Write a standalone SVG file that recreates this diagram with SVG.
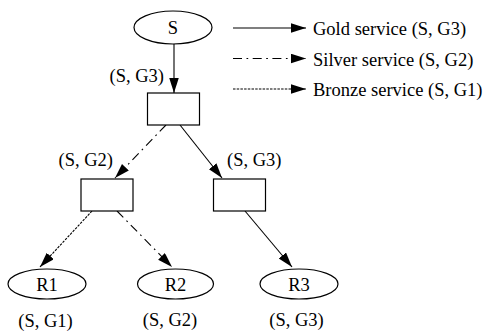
<svg xmlns="http://www.w3.org/2000/svg" width="495" height="332" viewBox="0 0 495 332">
<style>
text{font-family:"Liberation Serif","Times New Roman",serif;font-size:18.5px;fill:#000}
.c{text-anchor:middle}
.n{fill:#fff;stroke:#000;stroke-width:1.2}
.e{fill:none;stroke:#000;stroke-width:1.1}
.dd{stroke-dasharray:9 4.5 1.7 4.5}
.dt{stroke-dasharray:2.5 1.2}
</style>
<defs>
<marker id="ah" markerUnits="userSpaceOnUse" markerWidth="16" markerHeight="11" refX="15" refY="4.75" orient="auto">
<path d="M0,0 L15,4.75 L0,9.5 z" fill="#000"/>
</marker>
</defs>
<rect width="495" height="332" fill="#fff"/>
<g id="connectors">
<line class="e" x1="174" y1="44" x2="174" y2="93" marker-end="url(#ah)"/>
<line class="e dd" x1="166" y1="125" x2="115" y2="178" marker-end="url(#ah)"/>
<line class="e" x1="180" y1="125" x2="222" y2="178" marker-end="url(#ah)"/>
<line class="e dt" x1="92" y1="211" x2="40" y2="267" marker-end="url(#ah)"/>
<line class="e dd" x1="117" y1="211" x2="172" y2="267" marker-end="url(#ah)"/>
<line class="e" x1="245" y1="211" x2="292" y2="267" marker-end="url(#ah)"/>
</g>
<g id="legend">
<line class="e" x1="233" y1="28" x2="306" y2="28" marker-end="url(#ah)"/>
<text x="313" y="35">Gold service (S, G3)</text>
<line class="e dd" x1="233" y1="58.5" x2="306" y2="58.5" marker-end="url(#ah)"/>
<text x="313" y="65.5">Silver service (S, G2)</text>
<line class="e dt" x1="233" y1="89" x2="306" y2="89" marker-end="url(#ah)"/>
<text x="313" y="96">Bronze service (S, G1)</text>
</g>
<g id="S">
<ellipse class="n" cx="173" cy="27.5" rx="39" ry="16.5"/>
<text class="c" x="173" y="34">S</text>
</g>
<g id="router-top">
<rect class="n" x="147.5" y="93" width="52" height="32"/>
<text x="164" y="82" text-anchor="end">(S, G3)</text>
</g>
<g id="router-left">
<rect class="n" x="81" y="179" width="52" height="32"/>
<text x="113" y="166" text-anchor="end">(S, G2)</text>
</g>
<g id="router-right">
<rect class="n" x="213.5" y="179" width="52" height="32"/>
<text x="227" y="166">(S, G3)</text>
</g>
<g id="R1">
<ellipse class="n" cx="47" cy="284" rx="39" ry="15"/>
<text class="c" x="47" y="290.5">R1</text>
<text class="c" x="45.5" y="327">(S, G1)</text>
</g>
<g id="R2">
<ellipse class="n" cx="175.5" cy="284" rx="38" ry="15"/>
<text class="c" x="170" y="326">(S, G2)</text>
<text class="c" x="175.5" y="290.5">R2</text>
</g>
<g id="R3">
<ellipse class="n" cx="299" cy="284" rx="39" ry="15"/>
<text class="c" x="299" y="290.5">R3</text>
<text class="c" x="296.5" y="326">(S, G3)</text>
</g>
</svg>
